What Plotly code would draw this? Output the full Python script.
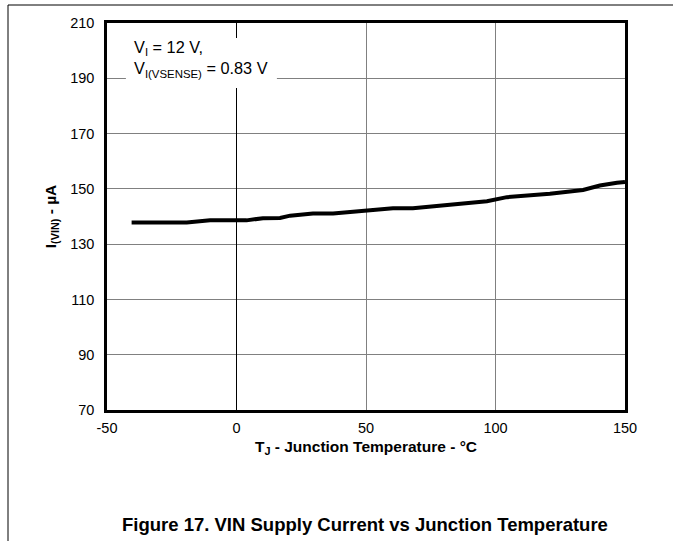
import plotly.graph_objects as go

temp_c = [-40.5, -19.2, -10.2, 3.9, 10.2, 16.8, 20.7, 29.5, 37.3, 48.8, 60.4, 68.1,
          81.3, 96.7, 104.4, 121.0, 133.8, 140.3, 146.9, 150.0]
i_vin_ua = [137.8, 137.8, 138.6, 138.6, 139.4, 139.5, 140.3, 141.1, 141.1, 142.1, 143.0, 143.0,
            144.3, 145.5, 147.0, 148.2, 149.6, 151.2, 152.2, 152.5]
x_ticks = [-50, 0, 50, 100, 150]
x_tick_text = ["-50", "0", "50", "100", "150"]
y_ticks = [70, 90, 110, 130, 150, 170, 190, 210]

FONT = "Liberation Sans, Arial, sans-serif"

fig = go.Figure()
fig.add_trace(go.Scatter(x=temp_c, y=i_vin_ua, mode="lines",
                         line=dict(color="black", width=4), hoverinfo="skip",
                         showlegend=False))

fig.update_layout(
    width=673, height=541,
    margin=dict(l=107, r=48, t=23, b=131),
    paper_bgcolor="white", plot_bgcolor="white",
    font=dict(family=FONT, size=12, color="black"),
    xaxis=dict(range=[-50, 150], tickvals=x_ticks, ticktext=x_tick_text, ticks="",
               showgrid=True, gridcolor="#808080", gridwidth=1, showline=True,
               linecolor="black", linewidth=2.5, mirror=True, zeroline=True,
               zerolinecolor="black", zerolinewidth=1, tickfont=dict(size=14.5),
               ticklabelstandoff=3,
               title=dict(text="<b>T<sub>J</sub> - Junction Temperature - °C</b>",
                          font=dict(size=15.5), standoff=6)),
    yaxis=dict(range=[70, 210], tickvals=y_ticks, ticks="", showgrid=True,
               gridcolor="#808080", gridwidth=1, showline=True, linecolor="black",
               linewidth=2.5, mirror=True, zeroline=False, tickfont=dict(size=14.5),
               ticklabelstandoff=7,
               title=dict(text="<b>I<sub>(VIN)</sub> - µA</b>", font=dict(size=15.5),
                          standoff=10)),
)

# white box behind the condition text
fig.add_shape(type="rect", xref="x", yref="y", x0=-42.7, x1=15.6, y0=186.5, y1=204.6,
              fillcolor="white", line=dict(width=0), layer="between")
fig.add_annotation(xref="paper", yref="paper", x=0.048, y=0.907, xanchor="left",
                   yanchor="middle", align="left", showarrow=False,
                   text="V<sub>I</sub> = 12 V,<br>V<sub>I(VSENSE)</sub> = 0.83 V",
                   font=dict(size=16.3))

# outer frame lines
fig.add_shape(type="line", xref="paper", yref="paper", x0=-0.1911, x1=1.1, y0=1.0465,
              y1=1.0465, line=dict(color="black", width=1))
fig.add_shape(type="line", xref="paper", yref="paper", x0=-0.1911, x1=-0.1911, y0=1.0465,
              y1=-0.35, line=dict(color="black", width=1))

fig.add_annotation(xref="paper", yref="paper", x=0.498, y=-0.2946, xanchor="center",
                   yanchor="middle", showarrow=False,
                   text="<b>Figure 17. VIN Supply Current vs Junction Temperature</b>",
                   font=dict(size=18.5))

fig.write_html("out.html", config={"displayModeBar": False},
               post_script="document.body.style.margin='0px';")
